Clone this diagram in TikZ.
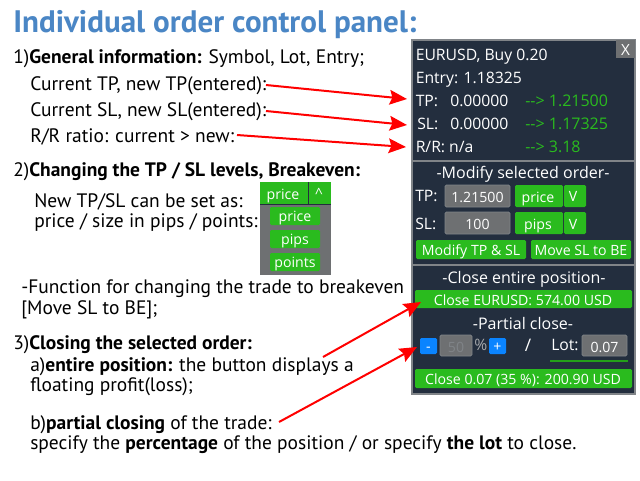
\documentclass[tikz,border=0pt]{standalone}
\usepackage{fontspec}
\setmainfont{Open Sans}
\newfontfamily\leftfont{PT Sans}
\usetikzlibrary{arrows.meta}
\definecolor{panelbg}{HTML}{232E3E}
\definecolor{panelln}{HTML}{808488}
\definecolor{btn}{HTML}{2ABB1E}
\definecolor{inp}{HTML}{6E7072}
\definecolor{ttl}{HTML}{4A86C5}
\definecolor{blu}{HTML}{0A84FF}
\tikzset{
 x=0.75pt,y=-0.75pt,
 txt/.style={anchor=base west,inner sep=0pt,font=\leftfont\fontsize{14.6}{16}\selectfont,text=black},
 ptxt/.style={anchor=base west,inner sep=0pt,font=\fontsize{11.8}{13}\selectfont,text=white},
 pctr/.style={anchor=base,inner sep=0pt,font=\fontsize{10.6}{12}\selectfont,text=white},
 phead/.style={anchor=base,inner sep=0pt,font=\fontsize{12}{13}\selectfont,text=white},
 grn/.style={anchor=base west,inner sep=0pt,font=\fontsize{12}{13}\selectfont,text=btn},
 bx/.style={fill=btn,rounded corners=1pt},
 inbx/.style={fill=inp,draw=panelln,line width=0.5pt,rounded corners=1pt},
 redarrow/.style={draw=red,line width=1.5pt,-{Stealth[length=13pt,width=11pt,inset=2pt]}},
}
\newcommand{\bold}[1]{\textbf{#1}}
\begin{document}
\begin{tikzpicture}
\useasboundingbox (0,0) rectangle (640,480);
\fill[white] (0,0) rectangle (640,480);
% left text
\node[anchor=base west,inner sep=0pt,font=\leftfont\fontsize{23.3}{25}\selectfont\bfseries,text=ttl] (title) at (13,32) {Individual order control panel:};
\node[txt] (a1) at (13,63) {1)\bold{General information:} Symbol, Lot, Entry;};
\node[txt] (a2) at (30,90) {Current TP, new TP(entered):};
\node[txt] (a3) at (30,116) {Current SL, new SL(entered):};
\node[txt] (a4) at (30,142) {R/R ratio: current > new:};
\node[txt] (b1) at (13,176) {2)\bold{Changing the TP / SL levels, Breakeven:}};
\node[txt] (b2) at (34,207) {New TP/SL can be set as:};
\node[txt] (b3) at (34,227) {price / size in pips / points:};
\node[txt] (b4) at (21,293) {-Function for changing the trade to breakeven};
\node[txt] (b5) at (21,314) {[Move SL to BE];};
\node[txt] (c1) at (13,349) {3)\bold{Closing the selected order:}};
\node[txt] (c2) at (30,371) {a)\bold{entire position:} the button displays a};
\node[txt] (c3) at (30,391) {floating profit(loss);};
\node[txt] (c4) at (30,429) {b)\bold{partial closing} of the trade:};
\node[txt] (c5) at (30,449) {specify the \bold{percentage} of the position / or specify \bold{the lot} to close.};
% dropdown
\fill[inp] (260,204) rectangle (331,275);
\fill[btn] (260,182) rectangle (331,204);
\draw[panelbg,line width=0.6pt] (308,182) -- (308,204);
\draw[panelbg,line width=0.6pt] (260,204) -- (331,204);
\node[pctr] (dd0) at (283,199) {price};
\node[pctr] (dd1) at (319,198) {\textasciicircum};
\fill[bx] (270,207) rectangle (320,225);
\fill[bx] (270,230) rectangle (320,248);
\fill[bx] (270,253) rectangle (320,271);
\node[pctr] (dd2) at (295,221) {price};
\node[pctr] (dd3) at (295,244) {pips};
\node[pctr] (dd4) at (295,267) {points};
% panel
\fill[panelbg] (412,40) rectangle (635,394);
\draw[panelln,line width=0.8pt] (412,40) rectangle (635,394);
\fill[inp] (616,40) rectangle (635,58);
\node[pctr,font=\fontsize{11.5}{13}\selectfont] (x) at (625.5,55) {X};
\draw[panelln,line width=0.8pt] (412,161) -- (635,161);
\draw[panelln,line width=0.8pt] (412,265) -- (635,265);
\node[ptxt] (p1) at (415.5,60) {EURUSD, Buy 0.20};
\node[ptxt] (p2) at (415.5,83) {Entry: 1.18325};
\node[ptxt] (p3) at (415.5,106) {TP:};
\node[ptxt] (p3b) at (450,106) {0.00000};
\node[grn] (p3c) at (525,106) {-{}-{}> 1.21500};
\node[ptxt] (p4) at (417,129) {SL:};
\node[ptxt] (p4b) at (450,129) {0.00000};
\node[grn] (p4c) at (525,129) {-{}-{}> 1.17325};
\node[ptxt] (p5) at (415.5,152) {R/R: n/a};
\node[grn] (p5c) at (525,152) {-{}-{}> 3.18};
\node[phead] (m0) at (523,178) {-Modify selected order-};
\node[ptxt] (m1) at (415,201) {TP:};
\node[ptxt] (m2) at (415,229) {SL:};
\draw[inbx] (445,185) rectangle (510,207);
\draw[inbx] (445,212) rectangle (510,234);
\node[pctr] (m3) at (477.5,202) {1.21500};
\node[pctr] (m4) at (477.5,229) {100};
\fill[bx] (515,185) rectangle (563,207);
\fill[bx] (564,185) rectangle (586,207);
\fill[bx] (515,212) rectangle (563,234);
\fill[bx] (564,212) rectangle (586,234);
\node[pctr] (m5) at (538,202) {price};
\node[pctr] (m6) at (573,201) {V};
\node[pctr] (m7) at (538,229) {pips};
\node[pctr] (m8) at (573,229) {V};
\fill[bx] (416,240) rectangle (526,259);
\fill[bx] (531,240) rectangle (631,259);
\node[pctr] (m9) at (471,255) {Modify TP \& SL};
\node[pctr] (m10) at (581,255) {Move SL to BE};
\node[phead] (k0) at (524,283) {-Close entire position-};
\fill[bx] (415,290) rectangle (632,308);
\node[pctr] (k1) at (523,305) {Close EURUSD: 574.00 USD};
\node[phead] (k2) at (523,329) {-Partial close-};
\fill[blu,rounded corners=1pt] (420,338) rectangle (437,354);
\fill[blu,rounded corners=1pt] (489,338) rectangle (506,354);
\node[pctr] (k3) at (428.5,351) {-};
\node[pctr] (k4) at (497.5,351) {+};
\draw[inbx] (440,335) rectangle (472,356);
\node[pctr,text=panelln] (k5) at (456,352) {50};
\node[ptxt,text=panelln!70!white] (k6) at (474,350) {\%};
\node[pctr,font=\fontsize{13}{14}\selectfont] (k7) at (528,351) {/};
\node[ptxt] (k8) at (551,350) {Lot:};
\draw[inbx] (582,335) rectangle (627,356);
\node[pctr] (k9) at (604.5,352) {0.07};
\draw[btn!85!black,line width=1.2pt] (550,361) -- (628,361);
\fill[bx] (415,369) rectangle (632,388);
\node[pctr] (k10) at (523,384) {Close 0.07 (35 \%): 200.90 USD};
% arrows
\coordinate (s1) at (266,85); \coordinate (e1) at (407,99);
\coordinate (s2) at (266,111); \coordinate (e2) at (407,125);
\coordinate (s3) at (237,135); \coordinate (e3) at (406,147);
\coordinate (s4) at (323,357); \coordinate (e4) at (421,302);
\coordinate (s5) at (279,422); \coordinate (e5) at (417,347);
\foreach \i in {1,...,5} {\draw[redarrow] (s\i) -- (e\i);}
\end{tikzpicture}
\end{document}
